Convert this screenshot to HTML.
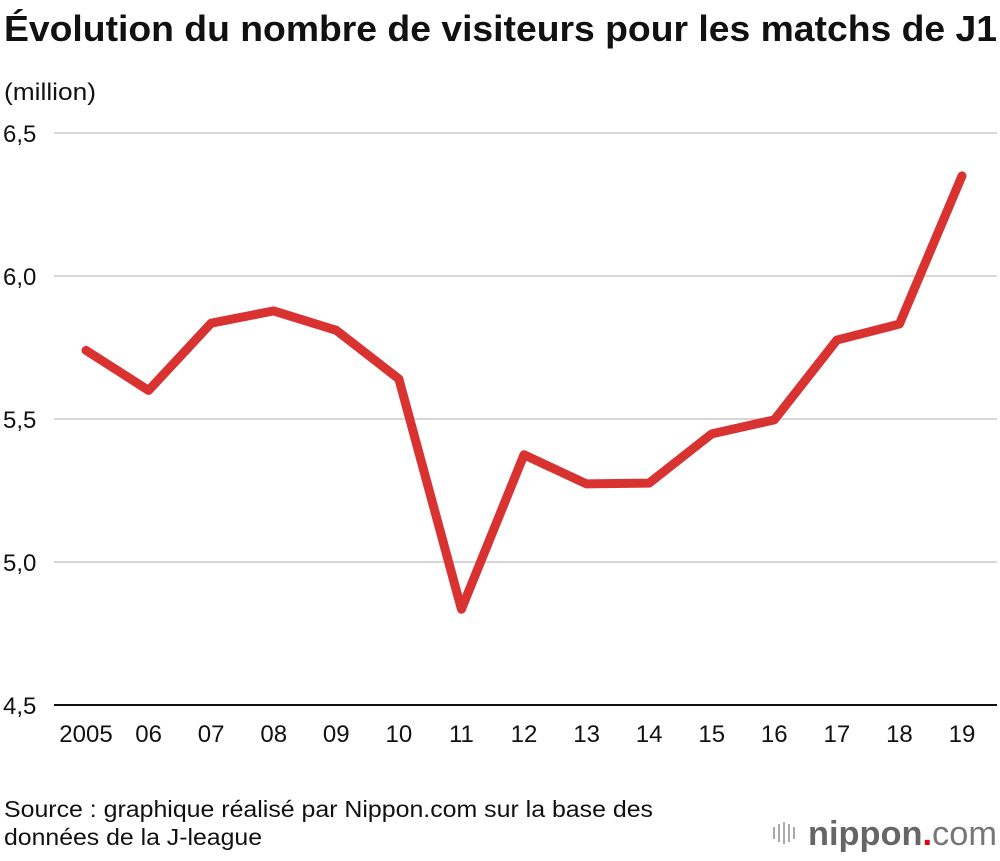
<!DOCTYPE html>
<html><head><meta charset="utf-8"><style>
body{margin:0;background:#fff;}
svg text{font-family:"Liberation Sans",Arial,sans-serif;fill:#111;}
</style></head><body>
<svg id="c" width="1000" height="856" viewBox="0 0 1000 856" xmlns="http://www.w3.org/2000/svg">
<text x="4" y="41" font-size="36" font-weight="bold" textLength="993" lengthAdjust="spacingAndGlyphs">Évolution du nombre de visiteurs pour les matchs de J1</text>
<text x="4" y="100" font-size="24" textLength="92" lengthAdjust="spacingAndGlyphs">(million)</text>
<g id="grid"></g>
<g id="xlabels"></g>
<path id="line" fill="none" stroke="#d93331" stroke-width="9" stroke-linejoin="round" stroke-linecap="round"/>
<text x="4" y="817" font-size="23" textLength="649" lengthAdjust="spacingAndGlyphs">Source : graphique réalisé par Nippon.com sur la base des</text>
<text x="4" y="845" font-size="23" textLength="258" lengthAdjust="spacingAndGlyphs">données de la J-league</text>
<g>
<g stroke="#aaa" stroke-width="2">
<line x1="774" y1="827" x2="774" y2="839"/><line x1="779" y1="824" x2="779" y2="842"/><line x1="784" y1="822" x2="784" y2="844"/><line x1="789" y1="824" x2="789" y2="842"/><line x1="794" y1="827" x2="794" y2="839"/>
</g>
<text x="808" y="845" font-size="34" textLength="189" lengthAdjust="spacingAndGlyphs" style="fill:#666" font-weight="bold">nippon<tspan style="fill:#e60012">.</tspan><tspan font-weight="normal" style="fill:#777">com</tspan></text>
</g>
</svg>
<script>
const years=["2005","06","07","08","09","10","11","12","13","14","15","16","17","18","19"];
const visitors=[5.74,5.60,5.835,5.878,5.81,5.64,4.835,5.375,5.273,5.276,5.448,5.497,5.776,5.832,6.35];
const yTicks=[4.5,5.0,5.5,6.0,6.5];
const yTickLabels=["4,5","5,0","5,5","6,0","6,5"];
const NS="http://www.w3.org/2000/svg";
function yS(v){return 705-(v-4.5)*286;}
function xS(i){return 86+i*(962-86)/(years.length-1);}
const grid=document.getElementById('grid');
yTicks.forEach((t,i)=>{
  const l=document.createElementNS(NS,'line');
  l.setAttribute('x1',54);l.setAttribute('x2',997);
  l.setAttribute('y1',yS(t));l.setAttribute('y2',yS(t));
  l.setAttribute('stroke',i===0?'#111':'#c8c8c8');l.setAttribute('stroke-width',i===0?2:1.5);
  
  
  grid.appendChild(l);
  const tx=document.createElementNS(NS,'text');
  tx.setAttribute('x',3);tx.setAttribute('y',yS(t)+9);tx.setAttribute('font-size',24);
  tx.textContent=yTickLabels[i];
  
  
  grid.appendChild(tx);
});
const xl=document.getElementById('xlabels');
years.forEach((y,i)=>{
  const tx=document.createElementNS(NS,'text');
  tx.setAttribute('x',xS(i));tx.setAttribute('y',742);tx.setAttribute('font-size',24);
  tx.setAttribute('text-anchor','middle');tx.textContent=y;
  
  
  xl.appendChild(tx);
});
document.getElementById('line').setAttribute('d',visitors.map((v,i)=>(i?'L':'M')+xS(i)+','+yS(v)).join(' '));
</script>
</body></html>
